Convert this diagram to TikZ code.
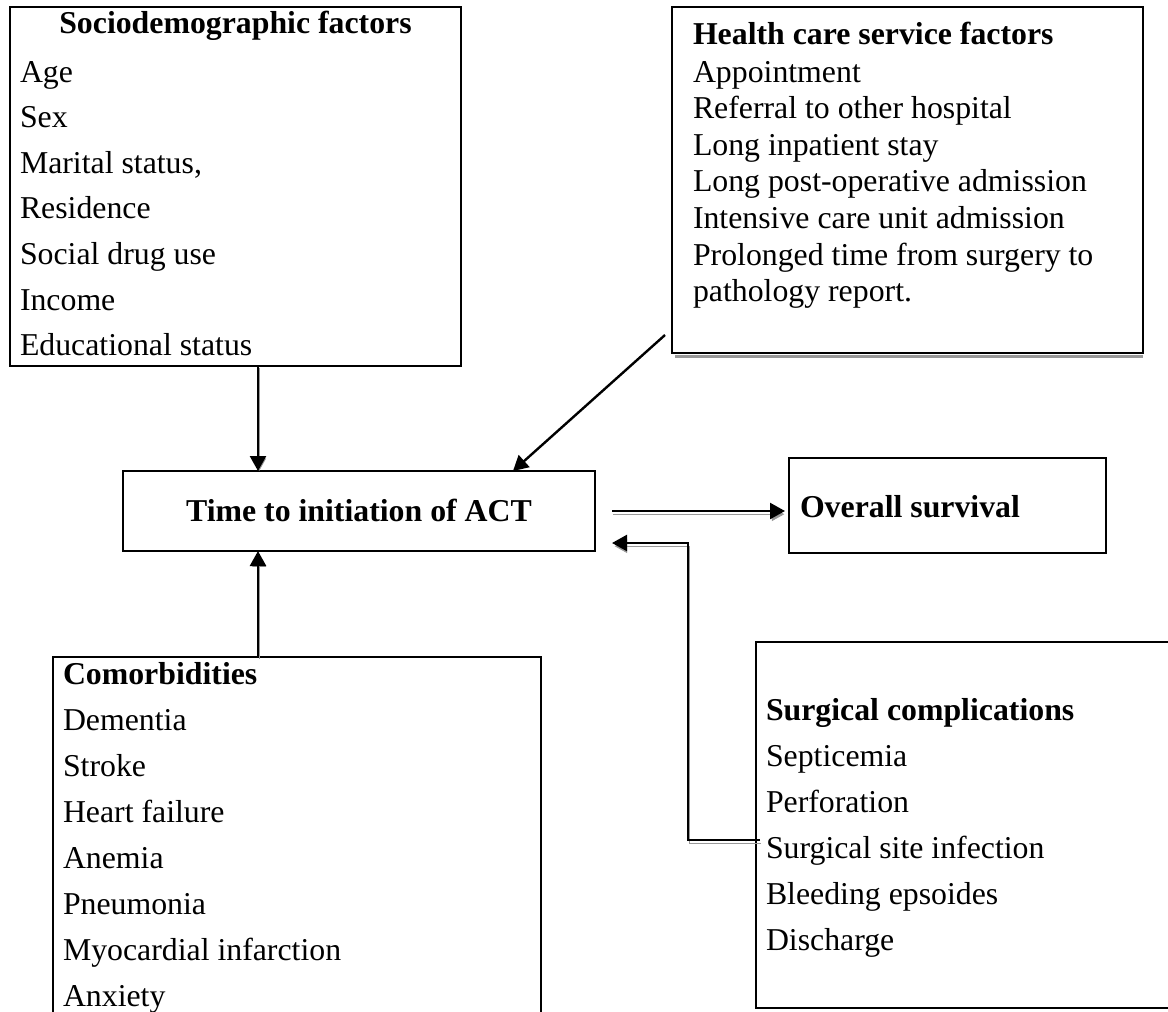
\documentclass[tikz,border=0pt]{standalone}
\usepackage{fontspec}
\setmainfont{Liberation Serif}
\usetikzlibrary{arrows.meta,fit,calc}
\definecolor{shadowgray}{gray}{0.6}
\begin{document}
\begin{tikzpicture}[x=0.5pt,y=-0.5pt,
  box/.style={draw=black, line width=1.3pt, inner sep=0pt, outer sep=0pt},
  txt/.style={inner sep=0pt, outer sep=0pt, font=\fontsize{15.9}{18.3}\selectfont},
  arr/.style={line width=1.2pt, -{Triangle[length=7.5pt,width=8pt]}},
  shad/.style={preaction={draw=shadowgray, transform canvas={xshift=0.5pt,yshift=-1.6pt}}},
  shadv/.style={preaction={draw=shadowgray, transform canvas={xshift=0.6pt,yshift=-0.8pt}}}
]
\useasboundingbox (0,0) rectangle (1168,1012);
\fill[white] (0,0) rectangle (1168,1012);
\clip (0,0) rectangle (1168,1012);

% boxes
\node[box, fit={(10,7) (461,366)}] (socio) {};
\node[box, fit={(672,7) (1143,353)}] (health) {};
\fill[shadowgray] ($(health.south west)+(3,1.5)$) rectangle ($(health.south east)+(0,4.5)$);
\node[box, fit={(123,471) (595,551)}] (time) {};
\node[box, fit={(789,458) (1106,553)}] (overall) {};
\node[box, fit={(53,657) (541,1060)}] (comorb) {};
\node[box, fit={(756,642) (1200,1008)}] (surg) {};

% sociodemographic
\node[txt, anchor=base] (sociohead) at (235.5,33) {\bfseries Sociodemographic factors};
\foreach \t [count=\i from 0] in {Age, Sex, {Marital status,}, Residence, Social drug use, Income, Educational status}
  \node[txt, anchor=base west] (socio-\i) at (20,{82+45.6*\i}) {\t};

% health care
\node[txt, anchor=base west] (healthhead) at (693,45) {\bfseries Health care service factors};
\foreach \t [count=\i from 0] in {Appointment, Referral to other hospital, Long inpatient stay, Long post-operative admission, Intensive care unit admission, Prolonged time from surgery to, pathology report.}
  \node[txt, anchor=base west] (health-\i) at (693,{82+36.6*\i}) {\t};

% central
\node[txt, anchor=base] (timetext) at (359,521) {\bfseries Time to initiation of ACT};
\node[txt, anchor=base west] (overalltext) at (800,517) {\bfseries Overall survival};

% comorbidities
\node[txt, anchor=base west] (comorbhead) at (63,684) {\bfseries Comorbidities};
\foreach \t [count=\i from 1] in {Dementia, Stroke, Heart failure, Anemia, Pneumonia, Myocardial infarction, Anxiety}
  \node[txt, anchor=base west] (comorb-\i) at (63,{684+46*\i}) {\t};

% surgical complications
\node[txt, anchor=base west] (surghead) at (766,720) {\bfseries Surgical complications};
\foreach \t [count=\i from 1] in {Septicemia, Perforation, Surgical site infection, Bleeding epsoides, Discharge}
  \node[txt, anchor=base west] (surg-\i) at (766,{720+46*\i}) {\t};

% connectors
\coordinate (cx) at (258,0);
\coordinate (h0) at (665,335);
\coordinate (h1) at (513,468);
\coordinate (f0) at (612,511);
\coordinate (b0) at (688,543);
\coordinate (b1) at (760,840);
\coordinate (b2) at (612,543);

\draw[arr, shadv] (socio.south -| cx) -- (time.north -| cx);
\draw[arr] (h0) -- (time.north -| h1);
\draw[arr, shadv] (comorb.north -| cx) -- (time.south -| cx);
\draw[arr, shad, shorten >=2pt] (f0) -- (overall.west |- f0);
\draw[arr, shad] (b1) -| (b0) -- (b2);
\end{tikzpicture}
\end{document}
